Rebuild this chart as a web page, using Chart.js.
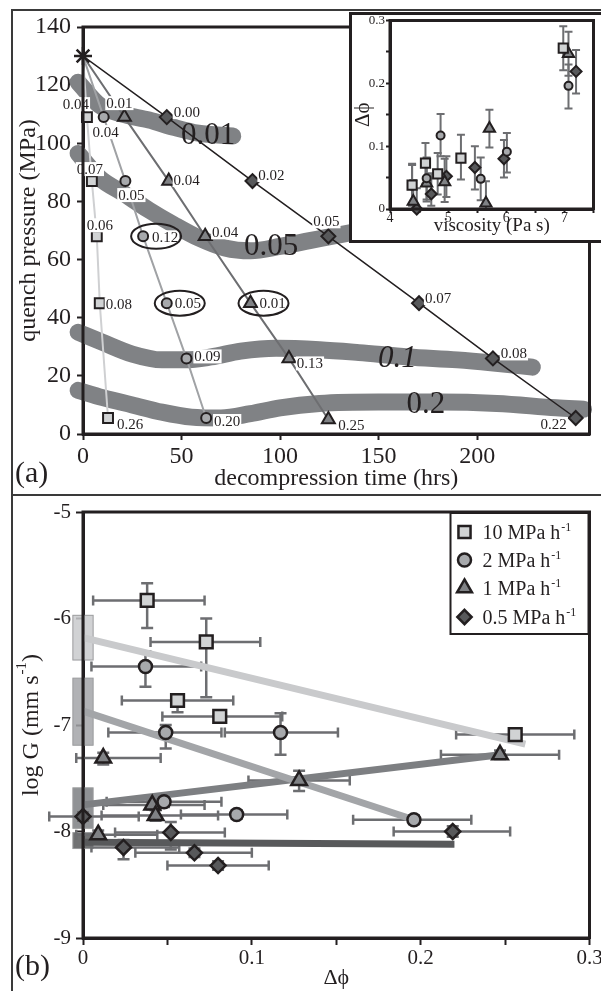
<!DOCTYPE html>
<html>
<head>
<meta charset="utf-8">
<title>Decompression experiments</title>
<script src="https://cdn.jsdelivr.net/npm/chart.js@4.4.1/dist/chart.umd.min.js"></script>
<style>
  body { margin: 0; background: #fff; }
  #page { position: relative; width: 601px; height: 991px; overflow: hidden; }
  #page canvas { position: absolute; }
  #chartA { left: 0; top: 0; }
  #chartB { left: 0; top: 494px; }
  #chartInset { left: 349px; top: 12px; background: #fff; }
  .frame { position: absolute; border: 0 solid #3a3a3a; pointer-events: none; }
</style>
</head>
<body>
<div id="page">
  <canvas id="chartA" width="601" height="494"></canvas>
  <canvas id="chartB" width="601" height="497"></canvas>
  <canvas id="chartInset" width="253" height="231"></canvas>
  <div class="frame" style="left:11px; top:9px; width:600px; height:483px; border-width:2px 0 2px 2px;"></div>
  <div class="frame" style="left:11px; top:494px; width:600px; height:500px; border-width:0 0 0 2px;"></div>
</div>
<script>
const INK = '#231f20';
const SERIF = "'Liberation Serif', 'Times New Roman', serif";

// ---- data ----
// decompression start (hrs, MPa)
const startTime = 0;
const startPress = 130;

// quench time (hrs) and quench pressure (MPa), one pair of arrays per rate
const sqTime = [2, 4.5, 7, 8.5, 12.7];              // 10 MPa/h
const sqPress = [109, 87, 68, 45, 5.5];
const ciTime = [10.5, 21.5, 30.5, 42.5, 52.5, 62.5]; // 2 MPa/h
const ciPress = [109, 87, 68, 45, 26, 5.5];
const trTime = [21, 43.5, 62, 85, 104.5, 124.5];     // 1 MPa/h
const trPress = [109, 87, 68, 45, 26, 5];
const diTime = [42.5, 86, 124.5, 170.5, 208, 250];   // 0.5 MPa/h
const diPress = [109, 87, 68, 45, 26, 5.5];

// porosity change (delta phi) of each run, with its error range
const sqDphi = [0.038, 0.073, 0.056, 0.081, 0.256];
const sqDphiLo = [0.006, 0.040, 0.023, 0.047, 0.221];
const sqDphiHi = [0.072, 0.105, 0.089, 0.118, 0.291];
const ciDphi = [0.037, 0.049, 0.117, 0.048, 0.091, 0.196];
const ciDphiLo = [0.005, 0.015, 0.084, 0.014, 0.058, 0.160];
const ciDphiHi = [0.070, 0.082, 0.151, 0.082, 0.121, 0.230];
const trDphi = [0.012, 0.041, 0.043, 0.009, 0.128, 0.247];
const trDphiLo = [-0.004, 0.012, 0.011, -0.004, 0.098, 0.212];
const trDphiHi = [0.046, 0.072, 0.080, 0.044, 0.158, 0.282];
const diDphi = [0.0, 0.024, 0.052, 0.066, 0.080, 0.219];
const diDphiLo = [-0.02, 0.005, 0.019, 0.031, 0.050, 0.184];
const diDphiHi = [0.033, 0.057, 0.084, 0.100, 0.110, 0.253];

// melt viscosity, log Pa s (inset)
const sqVisc = [4.38, 4.61, 4.82, 5.22, 6.98];
const ciVisc = [4.38, 4.63, 4.87, 5.56, 6.01, 7.07];
const trVisc = [4.40, 4.63, 4.94, 5.65, 5.71, 7.07];
const diVisc = [4.46, 4.71, 4.97, 5.46, 5.96, 7.20];

// log G, mm/s (panel b) with error range
const sqLogG = [-5.83, -6.22, -6.77, -6.92, -7.09];
const sqLogGLo = [-6.09, -6.74, -6.88, -6.97, -7.13];
const sqLogGHi = [-5.67, -6.00, -6.74, -6.88, -7.05];
const ciLogG = [-6.45, -7.07, -7.07, -7.72, -7.84, -7.89];
const ciLogGLo = [-6.64, -7.22, -7.28, -7.77, -7.88, -7.93];
const ciLogGHi = [-6.31, -7.00, -6.89, -7.67, -7.80, -7.85];
const trLogG = [-7.31, -7.75, -7.85, -8.03, -7.52, -7.28];
const trLogGLo = [-7.37, -7.79, -7.90, -8.07, -7.62, -7.32];
const trLogGHi = [-7.26, -7.71, -7.80, -7.99, -7.43, -7.24];
const diLogG = [-7.86, -8.15, -8.01, -8.20, -8.32, -8.00];
const diLogGLo = [-7.90, -8.26, -8.17, -8.24, -8.36, -8.05];
const diLogGHi = [-7.82, -8.08, -7.91, -8.16, -8.28, -7.95];

// regression lines and intercept ranges (panel b)
const sqFitX = [0, 0.262], sqFitY = [-6.18, -7.18], sqIcpt = [-6.39, -5.97];
const ciFitX = [0, 0.196], ciFitY = [-6.87, -7.89], ciIcpt = [-7.19, -6.56];
const trFitX = [0, 0.247], trFitY = [-7.75, -7.28], trIcpt = [-7.97, -7.59];
const diFitX = [0, 0.220], diFitY = [-8.10, -8.12], diIcpt = [-8.16, -8.01];

// constant delta phi contours (panel a)
const bandValues = ['0.01', '0.05', '0.1', '0.2'];
const band001T = [-2.5, 8.5, 20, 33.5, 46, 58.5, 76];
const band001P = [121, 113, 110, 108, 105.5, 103.5, 102.5];
const band005T = [-2.5, 8.5, 20, 33.5, 46, 58.5, 72, 85, 100, 115, 130, 142];
const band005P = [96.5, 88, 83, 77, 72, 67.5, 64, 63, 64.5, 66.5, 68.5, 70];
const band01T = [-2.5, 10, 25, 40, 52, 65, 80, 98, 120, 140, 165, 190, 207, 228];
const band01P = [35, 31.5, 27.5, 25.5, 25.5, 26.5, 28.5, 29.5, 29, 28, 26.5, 25.5, 24.5, 23];
const band02T = [-2.5, 10, 25, 40, 55, 70, 85, 100, 120, 150, 180, 210, 240, 254];
const band02P = [15, 12.5, 10, 7.5, 5.8, 5.5, 7, 9, 10.5, 11, 11, 10.5, 9, 8.5];

const rateLabels = ['10 MPa h', '2 MPa h', '1 MPa h', '0.5 MPa h'];

// ---- styling ----
const MARK = [
  { shape: 'rect', fill: '#d1d3d4', path: '#cfd0d2', fit: '#c9cacc', rA: 7, rB: 9, rIn: 6.5 },
  { shape: 'circle', fill: '#a7a9ac', path: '#a0a2a5', fit: '#a3a5a8', rA: 5, rB: 6.5, rIn: 4 },
  { shape: 'triangle', fill: '#808285', path: '#6d6e71', fit: '#7d7f82', rA: 7.5, rB: 9, rIn: 6.5 },
  { shape: 'rectRot', fill: '#58595b', path: INK, fit: '#58595b', rA: 7, rB: 7.5, rIn: 5.5 }
];
// where each delta phi label sits relative to its marker (px)
const labelOffsets = [
  [[-11, -13], [-2, -12], [3, -11], [19, 1], [22, 6]],
  [[2, 15], [6, 14], [22, 1], [21, 0], [21, -2], [21, 3]],
  [[-5, -14], [18, -1], [20, -4], [22, 0], [21, 5], [23, 6]],
  [[20, -5], [19, -6], [-2, -15], [19, -5], [21, -5], [-22, 6]]
];
const circledRuns = [[1, 2], [1, 3], [2, 3]];
const bandLabelPos = [[63.5, 102.5, false], [95.5, 64.3, false], [159.5, 25.8, true], [174, 10, false]];

const series = [
  { time: sqTime, press: sqPress, dphi: sqDphi, lo: sqDphiLo, hi: sqDphiHi, visc: sqVisc, g: sqLogG, gLo: sqLogGLo, gHi: sqLogGHi, fitX: sqFitX, fitY: sqFitY, icpt: sqIcpt },
  { time: ciTime, press: ciPress, dphi: ciDphi, lo: ciDphiLo, hi: ciDphiHi, visc: ciVisc, g: ciLogG, gLo: ciLogGLo, gHi: ciLogGHi, fitX: ciFitX, fitY: ciFitY, icpt: ciIcpt },
  { time: trTime, press: trPress, dphi: trDphi, lo: trDphiLo, hi: trDphiHi, visc: trVisc, g: trLogG, gLo: trLogGLo, gHi: trLogGHi, fitX: trFitX, fitY: trFitY, icpt: trIcpt },
  { time: diTime, press: diPress, dphi: diDphi, lo: diDphiLo, hi: diDphiHi, visc: diVisc, g: diLogG, gLo: diLogGLo, gHi: diLogGHi, fitX: diFitX, fitY: diFitY, icpt: diIcpt }
];
const bands = [[band001T, band001P], [band005T, band005P], [band01T, band01P], [band02T, band02P]];

Chart.defaults.font.family = SERIF;
Chart.defaults.color = INK;
Chart.defaults.animation = false;

const zip = (xs, ys) => xs.map((v, i) => ({ x: v, y: ys[i] }));

function fixBox(size) {
  return s => {
    if (s.isHorizontal()) s.height = size; else s.width = size;
    s.paddingLeft = s.paddingRight = s.paddingTop = s.paddingBottom = 0;
  };
}

function drawMarker(ctx, shape, x, y, r) {
  ctx.beginPath();
  if (shape === 'circle') {
    ctx.arc(x, y, r, 0, Math.PI * 2);
  } else if (shape === 'rect') {
    const h = r * Math.SQRT1_2;
    ctx.rect(x - h, y - h, 2 * h, 2 * h);
  } else if (shape === 'triangle') {
    for (let k = 0; k < 3; k++) {
      const a = k * 2 * Math.PI / 3;
      ctx[k ? 'lineTo' : 'moveTo'](x + Math.sin(a) * r, y - Math.cos(a) * r);
    }
    ctx.closePath();
  } else {
    ctx.moveTo(x, y - r); ctx.lineTo(x + r, y); ctx.lineTo(x, y + r); ctx.lineTo(x - r, y);
    ctx.closePath();
  }
  ctx.fill();
  ctx.stroke();
}

function supText(ctx, x, y, base, sup, size) {
  ctx.font = `${size}px ${SERIF}`;
  ctx.fillText(base, x, y);
  const w = ctx.measureText(base).width;
  ctx.font = `${Math.round(size * 0.62)}px ${SERIF}`;
  ctx.fillText(sup, x + w + 1, y - size * 0.42);
  return w + 1 + ctx.measureText(sup).width;
}

function frameArea(ctx, a) {
  ctx.save();
  ctx.strokeStyle = INK;
  ctx.lineWidth = 3;
  ctx.strokeRect(a.left, a.top, a.right - a.left, a.bottom - a.top);
  ctx.restore();
}

// ---------- panel (a) ----------
const dsA = [];
bands.forEach(([t, p], j) => dsA.push({
  data: zip(t, p), showLine: true, borderColor: '#808285', borderWidth: 17,
  borderCapStyle: 'round', borderJoinStyle: 'round', cubicInterpolationMode: 'monotone',
  pointRadius: 0, order: 10, clip: false, bandIndex: j
}));
series.forEach((s, k) => {
  dsA.push({
    data: [{ x: startTime, y: startPress }].concat(zip(s.time, s.press)),
    showLine: true, borderColor: MARK[k].path, borderWidth: k === 3 ? 1.5 : 2, pointRadius: 0, order: 5
  });
  dsA.push({
    data: zip(s.time, s.press), pointStyle: MARK[k].shape, pointRadius: MARK[k].rA,
    pointBackgroundColor: MARK[k].fill, pointBorderColor: INK, pointBorderWidth: 2, order: 2, clip: false
  });
});
dsA.push({
  data: [{ x: startTime, y: startPress }], pointStyle: 'star', pointRadius: 9,
  pointBorderColor: INK, pointBorderWidth: 2.5, order: 1, clip: false
});

const annotateA = {
  id: 'annotateA',
  afterDatasetDraw(chart, args) {
    const ds = chart.data.datasets[args.index];
    if (ds.bandIndex === undefined) return;
    const [t, p, italic] = bandLabelPos[ds.bandIndex];
    const { ctx, scales: { x, y } } = chart;
    ctx.save();
    ctx.font = `${italic ? 'italic ' : ''}31px ${SERIF}`;
    ctx.fillStyle = INK;
    ctx.textAlign = 'center';
    ctx.textBaseline = 'middle';
    ctx.fillText(bandValues[ds.bandIndex], x.getPixelForValue(t), y.getPixelForValue(p));
    ctx.restore();
  },
  afterDatasetsDraw(chart) {
    const { ctx, scales: { x, y } } = chart;
    ctx.save();
    ctx.font = `15px ${SERIF}`;
    ctx.textAlign = 'center';
    ctx.textBaseline = 'middle';
    series.forEach((s, k) => {
      s.dphi.forEach((d, i) => {
        const txt = d.toFixed(2);
        const cx = x.getPixelForValue(s.time[i]) + labelOffsets[k][i][0];
        const cy = y.getPixelForValue(s.press[i]) + labelOffsets[k][i][1];
        const w = ctx.measureText(txt).width;
        ctx.fillStyle = '#fff';
        ctx.fillRect(cx - w / 2 - 1, cy - 7, w + 2, 14);
        ctx.fillStyle = INK;
        ctx.fillText(txt, cx, cy + 1);
      });
    });
    ctx.strokeStyle = INK;
    ctx.lineWidth = 2;
    circledRuns.forEach(([k, i]) => {
      const s = series[k];
      ctx.beginPath();
      ctx.ellipse(x.getPixelForValue(s.time[i]) + 13, y.getPixelForValue(s.press[i]), 25, 12.5, 0, 0, Math.PI * 2);
      ctx.stroke();
    });
    ctx.restore();
  },
  afterDraw(chart) {
    const { ctx } = chart;
    frameArea(ctx, chart.chartArea);
    ctx.save();
    ctx.font = `30px ${SERIF}`;
    ctx.fillStyle = INK;
    ctx.textBaseline = 'middle';
    ctx.fillText('(a)', 15, 474);
    ctx.restore();
  }
};

new Chart(document.getElementById('chartA'), {
  type: 'scatter',
  data: { datasets: dsA },
  plugins: [annotateA],
  options: {
    responsive: false,
    events: [],
    layout: { padding: { top: 27, right: 4, left: 0, bottom: 0 } },
    plugins: { legend: { display: false }, tooltip: { enabled: false } },
    scales: {
      x: {
        type: 'linear', min: 0, max: 257,
        afterBuildTicks: s => { s.ticks = s.ticks.filter(t => t.value % 50 === 0); },
        afterFit: fixBox(60),
        ticks: { stepSize: 50, font: { size: 24 }, color: INK, padding: 2, maxRotation: 0, autoSkip: false },
        grid: { drawOnChartArea: false, tickLength: 6, tickWidth: 2, tickColor: INK },
        border: { color: INK, width: 3 },
        title: { display: true, text: 'decompression time (hrs)', font: { size: 24 }, color: INK, padding: { top: 0, bottom: 1 } }
      },
      y: {
        type: 'linear', min: 0, max: 140,
        afterFit: fixBox(83),
        ticks: { stepSize: 20, font: { size: 24 }, color: INK, padding: 6 },
        grid: { drawOnChartArea: false, tickLength: 6, tickWidth: 2, tickColor: INK },
        border: { color: INK, width: 3 },
        title: { display: true, text: 'quench pressure (MPa)', font: { size: 24 }, color: INK, padding: { top: 14, bottom: 0 } }
      }
    }
  }
});

// ---------- inset: delta phi vs viscosity ----------
const insetPlugin = {
  id: 'insetPlugin',
  beforeDatasetsDraw(chart) {
    const { ctx, chartArea: a, scales: { x, y } } = chart;
    ctx.save();
    ctx.beginPath();
    ctx.rect(a.left, a.top, a.right - a.left, a.bottom - a.top);
    ctx.clip();
    ctx.strokeStyle = '#6d6e71';
    ctx.lineWidth = 2;
    series.forEach(s => s.visc.forEach((v, i) => {
      const px = x.getPixelForValue(v);
      const y0 = y.getPixelForValue(s.lo[i]), y1 = y.getPixelForValue(s.hi[i]);
      ctx.beginPath();
      ctx.moveTo(px, y0); ctx.lineTo(px, y1);
      ctx.moveTo(px - 4, y0); ctx.lineTo(px + 4, y0);
      ctx.moveTo(px - 4, y1); ctx.lineTo(px + 4, y1);
      ctx.stroke();
    }));
    ctx.restore();
  },
  afterDraw(chart) {
    const { ctx, width, height } = chart;
    frameArea(ctx, chart.chartArea);
    ctx.save();
    ctx.strokeStyle = INK;
    ctx.lineWidth = 3;
    ctx.strokeRect(1.5, 1.5, width + 10, height - 3);
    ctx.restore();
  }
};

new Chart(document.getElementById('chartInset'), {
  type: 'scatter',
  data: {
    datasets: series.map((s, k) => ({
      data: zip(s.visc, s.dphi), pointStyle: MARK[k].shape, pointRadius: MARK[k].rIn,
      pointBackgroundColor: MARK[k].fill, pointBorderColor: INK, pointBorderWidth: 2, clip: false
    }))
  },
  plugins: [insetPlugin],
  options: {
    responsive: false,
    events: [],
    layout: { padding: { top: 6, right: 0, left: 0, bottom: 0 } },
    plugins: { legend: { display: false }, tooltip: { enabled: false } },
    scales: {
      x: {
        type: 'linear', min: 4, max: 7.5,
        afterFit: fixBox(34),
        ticks: { stepSize: 0.5, font: { size: 14 }, color: INK, padding: -3, maxRotation: 0, autoSkip: false,
          callback: v => Number.isInteger(v) ? String(v) : '' },
        grid: { drawOnChartArea: false, tickLength: 4, tickWidth: 2, tickColor: INK },
        border: { color: INK, width: 3 },
        title: { display: true, text: 'viscosity (Pa s)', font: { size: 19 }, color: INK, padding: { top: 0, bottom: 6 } }
      },
      y: {
        type: 'linear', min: 0, max: 0.3,
        afterFit: fixBox(41),
        ticks: { stepSize: 0.05, font: { size: 13 }, color: INK, padding: 1, autoSkip: false,
          callback: v => { const k = Math.round(v * 100); return k % 10 === 0 ? String(k / 100) : ''; } },
        grid: { drawOnChartArea: false, tickLength: 4, tickWidth: 2, tickColor: INK },
        border: { color: INK, width: 3 },
        title: { display: true, text: 'Δϕ', font: { size: 21 }, color: INK, padding: { top: 2, bottom: 0 } }
      }
    }
  }
});

// ---------- panel (b): log G vs delta phi ----------
const dsB = [];
series.forEach((s, k) => dsB.push({
  data: zip(s.fitX, s.fitY), showLine: true, borderColor: MARK[k].fit, borderWidth: 7,
  pointRadius: 0, order: 5, clip: false
}));
series.forEach((s, k) => dsB.push({
  data: zip(s.dphi, s.g), pointStyle: MARK[k].shape, pointRadius: MARK[k].rB,
  pointBackgroundColor: MARK[k].fill, pointBorderColor: INK, pointBorderWidth: 2.5, order: 1, clip: false
}));

const annotateB = {
  id: 'annotateB',
  beforeDatasetsDraw(chart) {
    const { ctx, scales: { x, y } } = chart;
    ctx.save();
    // intercept uncertainty boxes on the y axis
    series.forEach((s, k) => {
      const x0 = x.getPixelForValue(-0.006), x1 = x.getPixelForValue(0.006);
      const y0 = y.getPixelForValue(s.icpt[1]), y1 = y.getPixelForValue(s.icpt[0]);
      ctx.globalAlpha = 0.85;
      ctx.fillStyle = MARK[k].fit;
      ctx.fillRect(x0, y0, x1 - x0, y1 - y0);
      ctx.globalAlpha = 1;
      ctx.strokeStyle = '#9a9b9d';
      ctx.lineWidth = 1;
      ctx.strokeRect(x0, y0, x1 - x0, y1 - y0);
    });
    // error bars
    ctx.strokeStyle = '#6d6e71';
    ctx.lineWidth = 2.5;
    series.forEach(s => s.dphi.forEach((d, i) => {
      const px = x.getPixelForValue(d), py = y.getPixelForValue(s.g[i]);
      const xa = x.getPixelForValue(s.lo[i]), xb = x.getPixelForValue(s.hi[i]);
      const ya = y.getPixelForValue(s.gLo[i]), yb = y.getPixelForValue(s.gHi[i]);
      ctx.beginPath();
      ctx.moveTo(xa, py); ctx.lineTo(xb, py);
      ctx.moveTo(xa, py - 5); ctx.lineTo(xa, py + 5);
      ctx.moveTo(xb, py - 5); ctx.lineTo(xb, py + 5);
      ctx.moveTo(px, ya); ctx.lineTo(px, yb);
      ctx.moveTo(px - 6, ya); ctx.lineTo(px + 6, ya);
      ctx.moveTo(px - 6, yb); ctx.lineTo(px + 6, yb);
      ctx.stroke();
    }));
    ctx.restore();
  },
  afterDraw(chart) {
    const { ctx, chartArea: a } = chart;
    frameArea(ctx, a);
    ctx.save();
    // legend box in the top-right corner of the plot
    const bw = 138, bh = 121, bx = a.right - bw - 1, by = a.top + 1;
    ctx.fillStyle = '#fff';
    ctx.fillRect(bx, by, bw, bh);
    ctx.strokeStyle = INK;
    ctx.lineWidth = 2;
    ctx.strokeRect(bx, by, bw, bh);
    const rowY = [19, 47, 75, 104];
    rateLabels.forEach((lab, k) => {
      ctx.fillStyle = MARK[k].fill;
      ctx.strokeStyle = INK;
      ctx.lineWidth = 2.5;
      drawMarker(ctx, MARK[k].shape, bx + 14, by + rowY[k], k === 1 ? 6.5 : MARK[k].rB * 0.95);
      ctx.fillStyle = INK;
      ctx.textBaseline = 'alphabetic';
      ctx.textAlign = 'left';
      supText(ctx, bx + 32, by + rowY[k] + 7, lab, '-1', 20);
    });
    // y axis title with superscript
    ctx.save();
    ctx.translate(32, (a.top + a.bottom) / 2);
    ctx.rotate(-Math.PI / 2);
    ctx.font = `24px ${SERIF}`;
    const w1 = ctx.measureText('log G (mm s').width;
    ctx.font = `15px ${SERIF}`;
    const w2 = ctx.measureText('-1').width;
    ctx.font = `24px ${SERIF}`;
    const w3 = ctx.measureText(')').width;
    const x0 = -(w1 + w2 + w3 + 1) / 2;
    ctx.fillStyle = INK;
    ctx.textBaseline = 'middle';
    const wd = supText(ctx, x0, 0, 'log G (mm s', '-1', 24);
    ctx.font = `24px ${SERIF}`;
    ctx.fillText(')', x0 + wd, 0);
    ctx.restore();
    ctx.font = `30px ${SERIF}`;
    ctx.fillStyle = INK;
    ctx.textBaseline = 'middle';
    ctx.fillText('(b)', 15, 473);
    ctx.restore();
  }
};

new Chart(document.getElementById('chartB'), {
  type: 'scatter',
  data: { datasets: dsB },
  plugins: [annotateB],
  options: {
    responsive: false,
    events: [],
    layout: { padding: { top: 18, right: 3, left: 0, bottom: 0 } },
    plugins: { legend: { display: false }, tooltip: { enabled: false } },
    scales: {
      x: {
        type: 'linear', min: 0, max: 0.3,
        afterFit: fixBox(53),
        ticks: { stepSize: 0.05, font: { size: 21 }, color: INK, padding: 1, maxRotation: 0, autoSkip: false,
          callback: v => { const k = Math.round(v * 100); return k % 10 === 0 ? String(k / 100) : ''; } },
        grid: { drawOnChartArea: false, tickLength: 7, tickWidth: 2, tickColor: INK },
        border: { color: INK, width: 3 },
        title: { display: true, text: 'Δϕ', font: { size: 22 }, color: INK, padding: { top: 0, bottom: 0 } }
      },
      y: {
        type: 'linear', min: -9, max: -5,
        afterFit: fixBox(83),
        ticks: { stepSize: 1, font: { size: 21 }, color: INK, padding: 5, callback: v => String(v) },
        grid: { drawOnChartArea: false, tickLength: 7, tickWidth: 2, tickColor: INK },
        border: { color: INK, width: 3 }
      }
    }
  }
});
</script>
</body>
</html>
